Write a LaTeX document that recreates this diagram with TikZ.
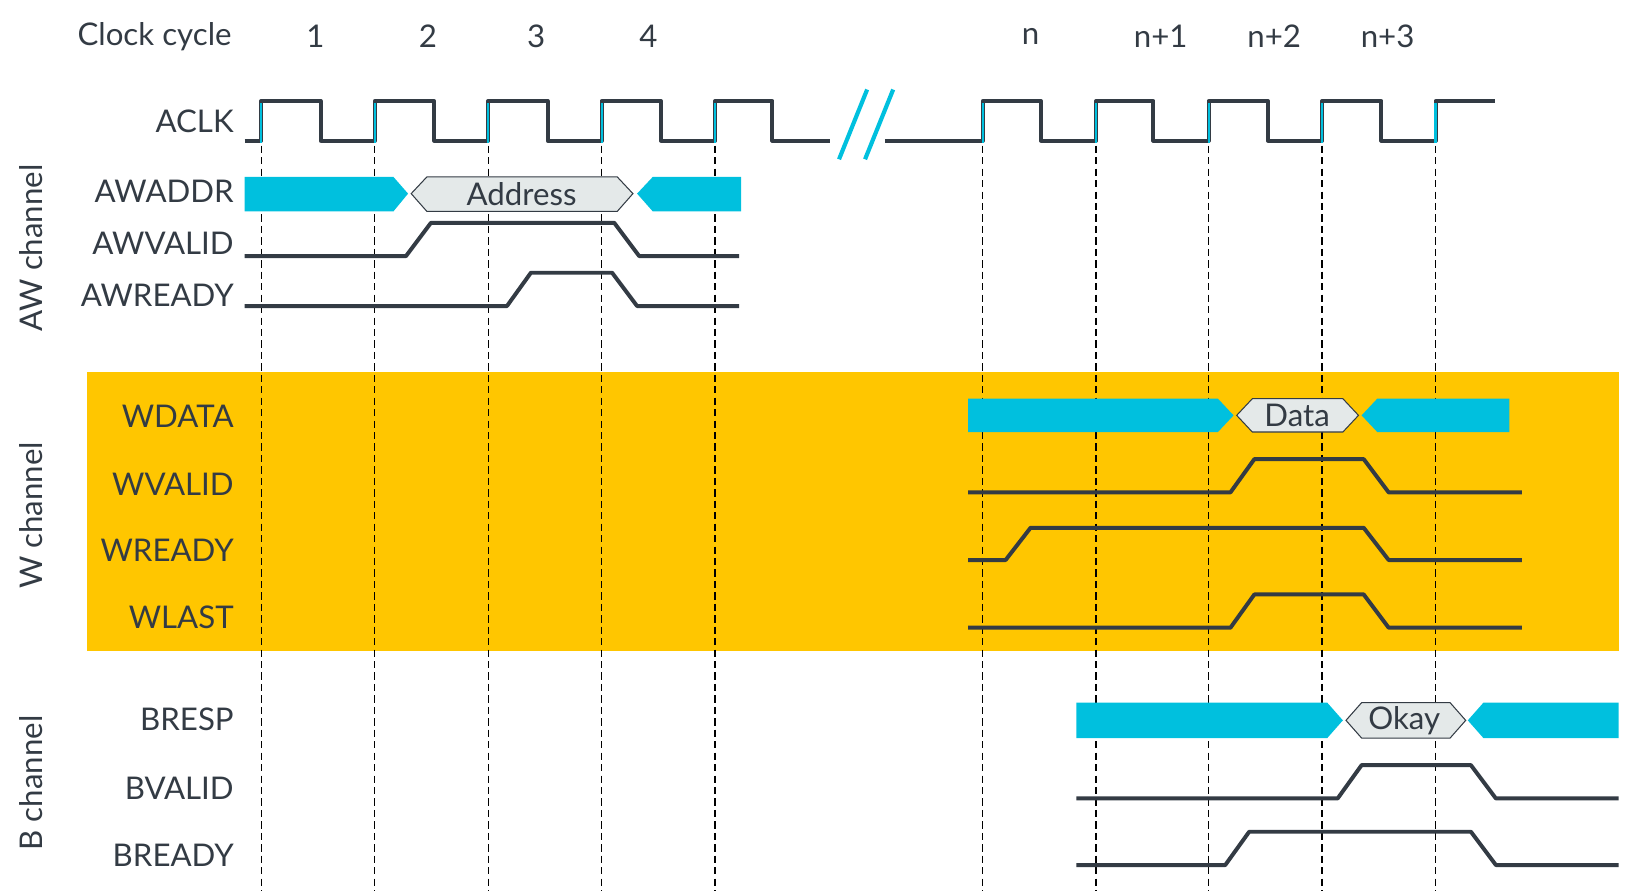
\documentclass[tikz,border=0pt]{standalone}
\usepackage{fontspec}
\setmainfont{Lato}
\definecolor{sig}{HTML}{333B44}
\definecolor{cy}{HTML}{00C0DE}
\definecolor{yel}{HTML}{FFC600}
\definecolor{hexf}{HTML}{E4E9E9}
\begin{document}
\begin{tikzpicture}[x=1pt,y=-1pt,
  wave/.style={draw=sig,line width=3.8pt,line join=round},
  lab/.style={anchor=east,font=\fontsize{30}{30}\selectfont,text=sig},
  num/.style={font=\fontsize{30}{30}\selectfont,text=sig},
  grp/.style={rotate=90,font=\fontsize{30}{30}\selectfont,text=sig},
  hexb/.style={draw=sig,line width=1pt,fill=hexf},
  dsh/.style={draw=black,dash pattern=on 7pt off 4pt,line width=1.3pt}]
\useasboundingbox (0,0) rectangle (1562,857);
\fill[yel] (84,357) rectangle (1555,625);
% dashed lines
\foreach \x in {251,360,469,578,687,944,1053,1161,1270,1379}
  \draw[dsh] (\x,140) -- (\x,856);
% labels
\node[lab] (cc) at (226,35) {Clock cycle};
\foreach \t/\x [count=\i] in {1/303,2/411,3/515,4/623,n/990,n+1/1115,n+2/1224,n+3/1333}
  \node[num] (cn\i) at (\x,35) {\t};
\foreach \t/\y [count=\i] in {ACLK/117,AWADDR/184,AWVALID/234,AWREADY/284,WDATA/400,WVALID/465,WREADY/529,WLAST/593,BRESP/691,BVALID/757,BREADY/822}
  \node[lab] (l\i) at (228,\y) {\t};
\node[grp] (g1) at (30,238) {AW channel};
\node[grp] (g2) at (30,495) {W channel};
\node[grp] (g3) at (30,752) {B channel};
% clock
\draw[wave] (235,135) -- (251,135) -- (251,97) -- (308,97) -- (308,135) -- (360,135) -- (360,97) -- (417,97) -- (417,135) -- (469,135) -- (469,97) -- (526,97) -- (526,135) -- (578,135) -- (578,97) -- (635,97) -- (635,135) -- (687,135) -- (687,97) -- (742,97) -- (742,135) -- (797,135);
\draw[wave] (850,135) -- (944,135) -- (944,97) -- (1000,97) -- (1000,135) -- (1053,135) -- (1053,97) -- (1108,97) -- (1108,135) -- (1161,135) -- (1161,97) -- (1218,97) -- (1218,135) -- (1270,135) -- (1270,97) -- (1327,97) -- (1327,135) -- (1379,135) -- (1379,97) -- (1436,97);
\foreach \x in {251,360,469,578,687,944,1053,1161,1270,1379}
  \draw[cy,line width=2pt] (\x,99) -- (\x,137);
\draw[cy,line width=4pt] (806,153) -- (833,86);
\draw[cy,line width=4pt] (831,153) -- (858,86);
% AWADDR
\fill[cy] (235,170) -- (378,170) -- (392,186) -- (378,203) -- (235,203) -- cycle;
\draw[hexb] (395,186) -- (410,170) -- (593,170) -- (608,186) -- (593,203) -- (410,203) -- cycle;
\node[num] (adr) at (501,186) {Address};
\fill[cy] (612,186) -- (627,170) -- (712,170) -- (712,203) -- (627,203) -- cycle;
\draw[wave] (235,246) -- (390,246) -- (414,214) -- (590,214) -- (614,246) -- (710,246);
\draw[wave] (235,294) -- (487,294) -- (510,262) -- (588,262) -- (612,294) -- (710,294);
% WDATA
\fill[cy] (930,383) -- (1170,383) -- (1185,399) -- (1170,415) -- (930,415) -- cycle;
\draw[hexb] (1188,399) -- (1203,383) -- (1290,383) -- (1305,399) -- (1290,415) -- (1203,415) -- cycle;
\node[num] (dat) at (1246,399) {Data};
\fill[cy] (1308,399) -- (1323,383) -- (1450,383) -- (1450,415) -- (1323,415) -- cycle;
\draw[wave] (930,473) -- (1182,473) -- (1205,441) -- (1310,441) -- (1334,473) -- (1462,473);
\draw[wave] (930,538) -- (966,538) -- (990,507) -- (1310,507) -- (1334,538) -- (1462,538);
\draw[wave] (930,603) -- (1182,603) -- (1205,571) -- (1310,571) -- (1334,603) -- (1462,603);
% BRESP
\fill[cy] (1034,675) -- (1275,675) -- (1290,692) -- (1275,709) -- (1034,709) -- cycle;
\draw[hexb] (1293,692) -- (1308,675) -- (1393,675) -- (1408,692) -- (1393,709) -- (1308,709) -- cycle;
\node[num] (ok) at (1349,692) {Okay};
\fill[cy] (1410,692) -- (1425,675) -- (1555,675) -- (1555,709) -- (1425,709) -- cycle;
\draw[wave] (1034,767) -- (1285,767) -- (1308,735) -- (1413,735) -- (1437,767) -- (1555,767);
\draw[wave] (1034,831) -- (1177,831) -- (1200,799) -- (1413,799) -- (1437,831) -- (1555,831);
\end{tikzpicture}
\end{document}
